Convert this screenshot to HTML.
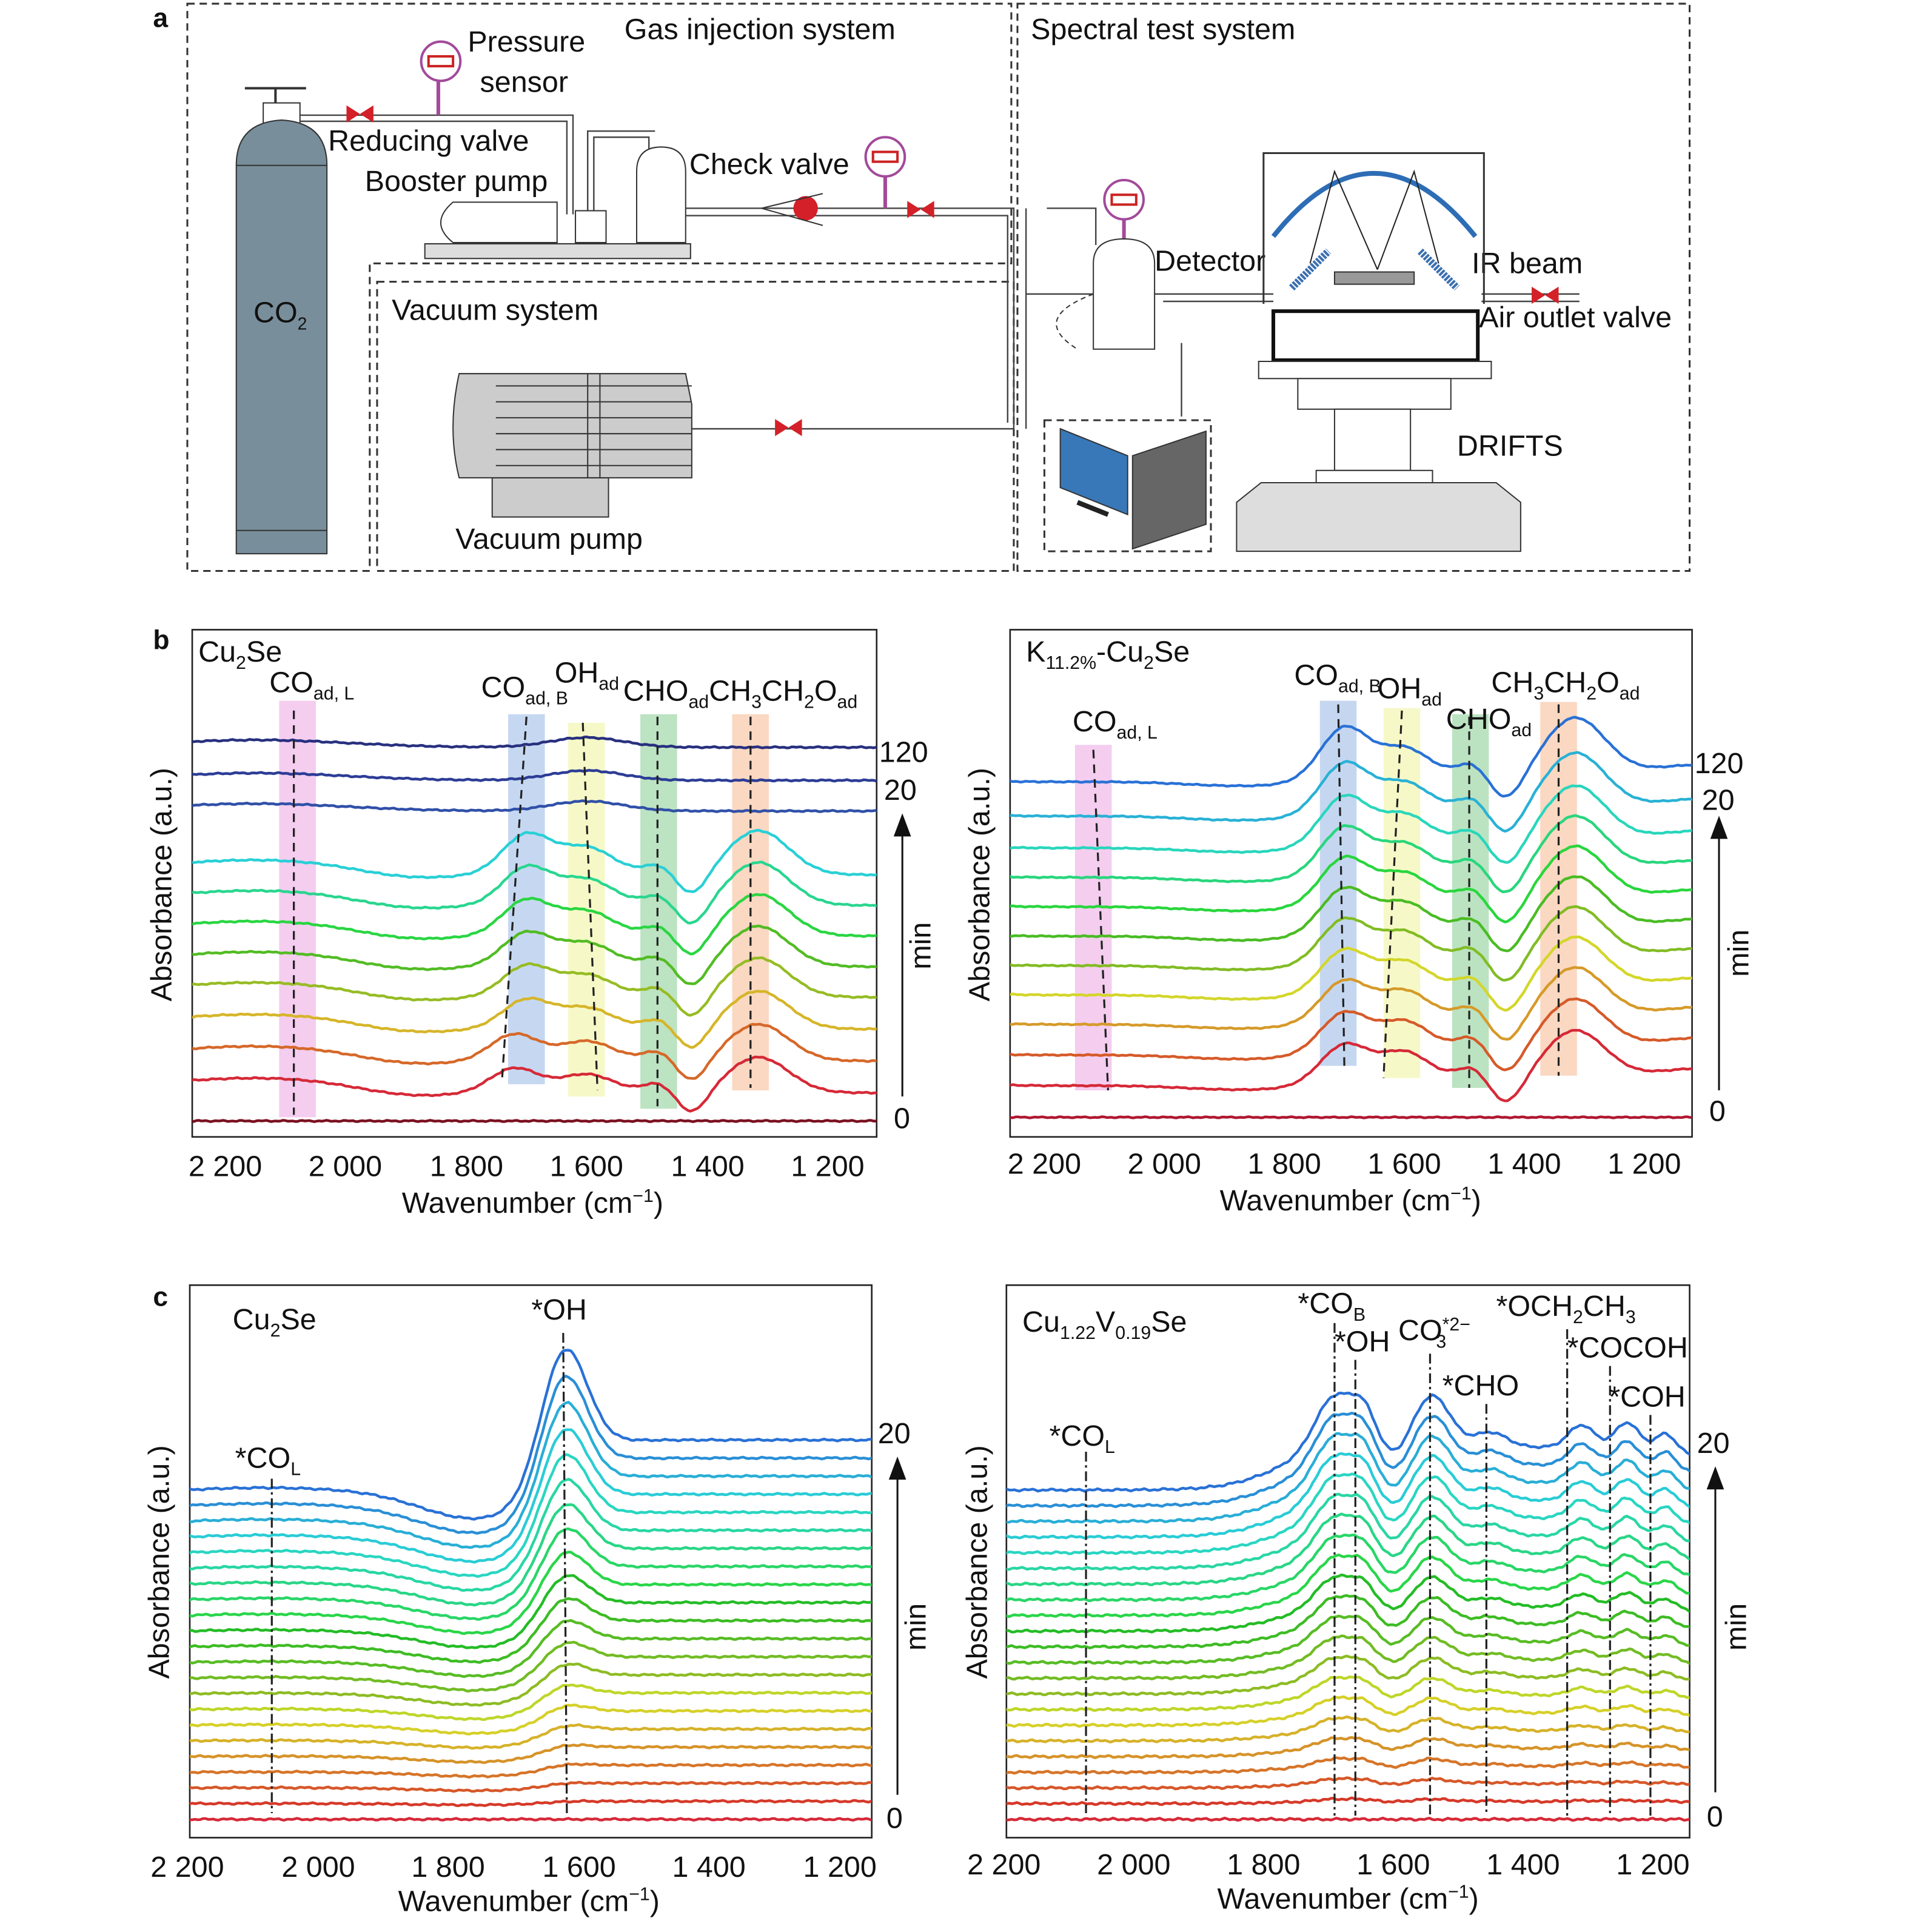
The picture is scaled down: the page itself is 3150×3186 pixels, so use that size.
<!DOCTYPE html>
<html><head><meta charset="utf-8"><style>
html,body{margin:0;padding:0;background:#fff}
svg{display:block}
text{font-family:"Liberation Sans",sans-serif;fill:#111}
</style></head><body>
<svg id="s" width="3150" height="3186" viewBox="0 0 1560 1577" preserveAspectRatio="none" xmlns="http://www.w3.org/2000/svg">
<defs>
<clipPath id="cbl"><rect x="157" y="514" width="559" height="414"/></clipPath>
<clipPath id="cbr"><rect x="825" y="514" width="557" height="414"/></clipPath>
<clipPath id="ccl"><rect x="155" y="1049" width="557" height="451"/></clipPath>
<clipPath id="ccr"><rect x="822" y="1049" width="558" height="451"/></clipPath>
</defs>
<g fill="none" stroke="#333" stroke-width="1.5" stroke-dasharray="6,4">
<path d="M153,3 H826 V215 H302 V466 H153 Z"/>
<rect x="308" y="230" width="520" height="236"/>
<rect x="831" y="3" width="549" height="463"/>
<rect x="853" y="343" width="136" height="107"/>
</g>
<text x="125" y="22" font-size="22" font-weight="bold">a</text>
<text x="510" y="32" font-size="24">Gas injection system</text>
<text x="842" y="32" font-size="24">Spectral test system</text>
<text x="320" y="261" font-size="24">Vacuum system</text>
<text x="382" y="42" font-size="24">Pressure</text>
<text x="392" y="75" font-size="24">sensor</text>
<text x="268" y="123" font-size="24">Reducing valve</text>
<text x="298" y="156" font-size="24">Booster pump</text>
<text x="563" y="142" font-size="24">Check valve</text>
<text x="372" y="448" font-size="24">Vacuum pump</text>
<text x="943" y="221" font-size="24">Detector</text>
<text x="1202" y="223" font-size="24">IR beam</text>
<text x="1208" y="267" font-size="24">Air outlet valve</text>
<text x="1055" y="281" font-size="24">Sample cell</text>
<text x="1190" y="372" font-size="24">DRIFTS</text>
<rect x="215" y="84" width="30" height="20" fill="#fff" stroke="#333"/>
<path d="M200,72 H250 M225,72 V84" stroke="#333" stroke-width="2"/>
<path d="M193,135 Q193,100 230,98 Q267,100 267,135 V452 H193 Z" fill="#788e9b" stroke="#333"/>
<path d="M193,135 H267 M193,433 H267" stroke="#333"/>
<text x="207" y="263" font-size="24">CO<tspan font-size="14" dy="6">2</tspan></text>
<g stroke="#444" fill="none" stroke-width="1.2">
<path d="M245,94 H468 V175 M245,99 H463 V175"/>
<path d="M560,170 H828 V350 M560,176 H823 V345 M563,350 H828"/>
<path d="M838,170 V350 M838,240 H1040 M950,246 H1040 M1210,240 H1290 M1210,246 H1290"/>
<path d="M855,170 H895 V200 M965,280 V340"/>
<path d="M485,172 V112 H530 V125 M480,172 V107 H535"/>
</g>
<path d="M358,63 V94" stroke="#a24a9a" stroke-width="3"/>
<circle cx="360" cy="50" r="16" fill="#fff" stroke="#a24a9a" stroke-width="2"/><rect x="350" y="46" width="20" height="8" fill="none" stroke="#c22" stroke-width="2"/>
<path d="M723,142 V170" stroke="#a24a9a" stroke-width="3"/>
<circle cx="723" cy="128" r="16" fill="#fff" stroke="#a24a9a" stroke-width="2"/><rect x="713" y="124" width="20" height="8" fill="none" stroke="#c22" stroke-width="2"/>
<path d="M918,178 V200" stroke="#a24a9a" stroke-width="3"/>
<circle cx="918" cy="163" r="16" fill="#fff" stroke="#a24a9a" stroke-width="2"/><rect x="908" y="159" width="20" height="8" fill="none" stroke="#c22" stroke-width="2"/>
<g fill="#d42028">
<path d="M283,86 L305,100 V86 L283,100 Z"/><path d="M741,164 L763,178 V164 L741,178 Z"/><path d="M633,342 L655,356 V342 L633,356 Z"/><path d="M1251,234 L1273,248 V234 L1251,248 Z"/>
<circle cx="658" cy="170" r="10"/>
</g>
<path d="M622,170 L672,158 M622,170 L672,184" stroke="#333"/>
<rect x="347" y="199" width="217" height="12" fill="#ddd" stroke="#333"/>
<path d="M370,198 Q350,182 370,165 H455 V198 Z" fill="#fff" stroke="#333"/>
<path d="M520,198 V140 Q520,120 540,120 Q560,120 560,140 V198 Z" fill="#fff" stroke="#333"/>
<rect x="470" y="172" width="25" height="26" fill="#fff" stroke="#333"/>
<rect x="402" y="390" width="95" height="32" fill="#ccc" stroke="#333"/>
<path d="M375,305 H560 L565,330 V390 H375 Q365,350 375,305 Z" fill="#ccc" stroke="#333"/>
<g stroke="#333"><path d="M405,315 H565 M405,328 H565 M405,341 H565 M405,354 H565 M405,367 H565 M405,380 H565 M480,305 V390 M490,305 V390"/></g>
<path d="M893,285 V215 Q893,195 918,195 Q943,195 943,215 V285 Z" fill="#fff" stroke="#333"/>
<path d="M893,240 Q840,260 880,285" fill="none" stroke="#333" stroke-dasharray="4,3"/>
<path d="M866,350 L921,372 V420 L866,398 Z" fill="#3878b8" stroke="#333"/>
<path d="M925,372 L985,352 V428 L925,448 Z" fill="#666" stroke="#333"/>
<path d="M880,410 L905,420" stroke="#222" stroke-width="4"/>
<path d="M1032,248 V125 H1212 V248" fill="none" stroke="#333" stroke-width="1.5"/>
<path d="M1040,193 Q1122,90 1205,193" fill="none" stroke="#2d6db5" stroke-width="4"/>
<path d="M1125,220 L1090,140 L1070,215 M1125,220 L1155,140 L1175,215" fill="none" stroke="#222"/>
<path d="M1055,235 L1085,205 M1160,205 L1190,235" stroke="#3b6fb0" stroke-width="6" stroke-dasharray="2,1"/>
<rect x="1090" y="222" width="65" height="10" fill="#999" stroke="#333"/>
<rect x="1040" y="254" width="167" height="40" fill="#fff" stroke="#111" stroke-width="3"/>
<rect x="1028" y="295" width="190" height="14" fill="#fff" stroke="#333"/>
<rect x="1060" y="309" width="125" height="25" fill="#fff" stroke="#333"/>
<rect x="1090" y="334" width="62" height="50" fill="#fff" stroke="#333"/>
<rect x="1075" y="384" width="95" height="10" fill="#fff" stroke="#333"/>
<path d="M1010,450 V410 L1030,394 H1222 L1242,410 V450 Z" fill="#ddd" stroke="#333"/>
<g fill="none" stroke="#222" stroke-width="1.3">
<rect x="157" y="514" width="559" height="414"/><rect x="825" y="514" width="557" height="414"/>
<rect x="155" y="1049" width="557" height="451"/><rect x="822" y="1049" width="558" height="451"/>
</g>
<g id="bands" opacity="0.35"></g>
<g id="curves" fill="none" stroke-width="2.2"></g>
<g id="marks" fill="none" stroke="#222" stroke-width="1.6"></g>
<g font-size="24">
<text x="125" y="530" font-size="22" font-weight="bold">b</text>
<text x="125" y="1066" font-size="22" font-weight="bold">c</text>
<text x="162" y="540">Cu<tspan font-size="15" dy="6">2</tspan><tspan dy="-6">Se</tspan></text>
<text x="838" y="540">K<tspan font-size="15" dy="6">11.2%</tspan><tspan dy="-6">-Cu</tspan><tspan font-size="15" dy="6">2</tspan><tspan dy="-6">Se</tspan></text>
<text x="190" y="1085">Cu<tspan font-size="15" dy="6">2</tspan><tspan dy="-6">Se</tspan></text>
<text x="835" y="1087">Cu<tspan font-size="15" dy="6">1.22</tspan><tspan dy="-6">V</tspan><tspan font-size="15" dy="6">0.19</tspan><tspan dy="-6">Se</tspan></text>
<text x="220" y="565">CO<tspan font-size="15" dy="6">ad, L</tspan></text>
<text x="393" y="569">CO<tspan font-size="15" dy="6">ad, B</tspan></text>
<text x="453" y="557">OH<tspan font-size="15" dy="6">ad</tspan></text>
<text x="509" y="572">CHO<tspan font-size="15" dy="6">ad</tspan><tspan dy="-6">CH</tspan><tspan font-size="15" dy="6">3</tspan><tspan dy="-6">CH</tspan><tspan font-size="15" dy="6">2</tspan><tspan dy="-6">O</tspan><tspan font-size="15" dy="6">ad</tspan></text>
<text x="876" y="597">CO<tspan font-size="15" dy="6">ad, L</tspan></text>
<text x="1057" y="559">CO<tspan font-size="15" dy="6">ad, B</tspan></text>
<text x="1125" y="570">OH<tspan font-size="15" dy="6">ad</tspan></text>
<text x="1181" y="595">CHO<tspan font-size="15" dy="6">ad</tspan></text>
<text x="1218" y="565">CH<tspan font-size="15" dy="6">3</tspan><tspan dy="-6">CH</tspan><tspan font-size="15" dy="6">2</tspan><tspan dy="-6">O</tspan><tspan font-size="15" dy="6">ad</tspan></text>
<text x="192" y="1198">*CO<tspan font-size="15" dy="6">L</tspan></text>
<text x="434" y="1077">*OH</text>
<text x="857" y="1180">*CO<tspan font-size="15" dy="6">L</tspan></text>
<text x="1060" y="1072">*CO<tspan font-size="15" dy="6">B</tspan></text>
<text x="1090" y="1103">*OH</text>
<text x="1142" y="1094">CO<tspan font-size="15" dy="-8">*2−</tspan><tspan font-size="15" dy="14" dx="-28">3</tspan></text>
<text x="1178" y="1139">*CHO</text>
<text x="1222" y="1074">*OCH<tspan font-size="15" dy="6">2</tspan><tspan dy="-6">CH</tspan><tspan font-size="15" dy="6">3</tspan></text>
<text x="1280" y="1108">*COCOH</text>
<text x="1314" y="1148">*COH</text>
<text x="718" y="622">120</text><text x="722" y="653">20</text><text x="730" y="921">0</text>
<text x="1384" y="631">120</text><text x="1390" y="661">20</text><text x="1396" y="915">0</text>
<text x="717" y="1178">20</text><text x="724" y="1492">0</text>
<text x="1386" y="1186">20</text><text x="1394" y="1491">0</text>
<g text-anchor="middle">
<text x="184" y="960">2 200</text><text x="282" y="960">2 000</text><text x="381" y="960">1 800</text><text x="479" y="960">1 600</text><text x="578" y="960">1 400</text><text x="676" y="960">1 200</text>
<text x="853" y="958">2 200</text><text x="951" y="958">2 000</text><text x="1049" y="958">1 800</text><text x="1147" y="958">1 600</text><text x="1245" y="958">1 400</text><text x="1343" y="958">1 200</text>
<text x="153" y="1532">2 200</text><text x="260" y="1532">2 000</text><text x="366" y="1532">1 800</text><text x="473" y="1532">1 600</text><text x="579" y="1532">1 400</text><text x="686" y="1532">1 200</text>
<text x="820" y="1530">2 200</text><text x="926" y="1530">2 000</text><text x="1032" y="1530">1 800</text><text x="1138" y="1530">1 600</text><text x="1244" y="1530">1 400</text><text x="1350" y="1530">1 200</text>
<text x="435" y="990">Wavenumber (cm<tspan font-size="15" dy="-9">−1</tspan><tspan dy="9">)</tspan></text>
<text x="1103" y="988">Wavenumber (cm<tspan font-size="15" dy="-9">−1</tspan><tspan dy="9">)</tspan></text>
<text x="432" y="1560">Wavenumber (cm<tspan font-size="15" dy="-9">−1</tspan><tspan dy="9">)</tspan></text>
<text x="1101" y="1558">Wavenumber (cm<tspan font-size="15" dy="-9">−1</tspan><tspan dy="9">)</tspan></text>
<text transform="translate(140,722) rotate(-90)">Absorbance (a.u.)</text>
<text transform="translate(808,722) rotate(-90)">Absorbance (a.u.)</text>
<text transform="translate(138,1275) rotate(-90)">Absorbance (a.u.)</text>
<text transform="translate(806,1275) rotate(-90)">Absorbance (a.u.)</text>
<text transform="translate(760,772) rotate(-90)">min</text>
<text transform="translate(1428,778) rotate(-90)">min</text>
<text transform="translate(756,1328) rotate(-90)">min</text>
<text transform="translate(1426,1328) rotate(-90)">min</text>
</g>
</g>
<g stroke="#111" stroke-width="1.5" fill="#111">
<path d="M737,895 V680"/><path d="M731,682 L737,666 L743,682 Z"/>
<path d="M1404,890 V682"/><path d="M1398,684 L1404,668 L1410,684 Z"/>
<path d="M733,1465 V1205"/><path d="M727,1207 L733,1191 L739,1207 Z"/>
<path d="M1401,1463 V1213"/><path d="M1395,1215 L1401,1199 L1407,1215 Z"/>
</g>
</svg>
<script>
var NS="http://www.w3.org/2000/svg";
function el(p,t,a){var e=document.createElementNS(NS,t);for(var k in a)e.setAttribute(k,a[k]);p.appendChild(e);return e;}
function g(w,c,s){return Math.exp(-Math.pow((w-c)/s,2)/2);}
function col(t){var h=-5+t*220;if(h<0)h+=360;return "hsl("+h+",68%,"+(t>0.35&&t<0.6?44:50)+"%)";}
var C=document.getElementById("curves"),B=document.getElementById("bands"),M=document.getElementById("marks");
function draw(clip,xm,f,n,colf,noise){
 var gg=el(C,"g",{"clip-path":"url(#"+clip+")"});
 for(var i=0;i<n;i++){var d="";for(var w=2260;w>=1090;w-=4){var y=f(w,i)+(noise?noise*Math.sin(w*1.7+i*3)*Math.sin(w*0.31+i):0);d+=(d?"L":"M")+xm(w).toFixed(1)+","+y.toFixed(1);}
 el(gg,"path",{d:d,stroke:colf(i)});}
}
var xbl=function(w){return 184+(2200-w)*0.492;};
var bl=[915,892,866,840,814,789,764,739,714,662,637,610];
draw("cbl",xbl,function(w,i){var y=bl[i];if(i==0)return y;
 if(i>=9)return y-6*g(w,2150,150)-8*g(w,1600,60);
 var a=(i)/8;
 return y-12*g(w,2150,180)-(18+14*a)*g(w,1700-(i<3?-20:0),40)-(14+8*a)*g(w,1600,45)-8*g(w,1480,25)+18*g(w,1425,25)-(28+8*a)*g(w,1315,50)+6*g(w,1900,80);},
 12,function(i){return i==0?"#7a1020":i>=9?["#3050a8","#2c3c96","#28307f"][i-9]:col((i-1)/7*0.85);},0.6);
var xbr=function(w){return 853+(2200-w)*0.49;};
var br=[912,880,855,830,806,782,758,734,710,686,660,632];
draw("cbr",xbr,function(w,i){var y=br[i];if(i==0)return y;var a=i/11;
 return y+6*g(w,2200,200)-(30+12*a)*g(w,1700,40)-(22)*g(w,1600,40)-10*g(w,1485,25)+22*g(w,1430,28)-(38+8*a)*g(w,1315,50)+8*g(w,1850,120)-8*g(w,1100,80);},
 12,function(i){return i==0?"#b01830":col((i-1)/10);},0.5);
var xcl=function(w){return 153+(2200-w)*0.533;};
draw("ccl",xcl,function(w,i){var a=i/21,y=1485-i*12.6;
 var s=1/(1+Math.exp((w-1640)/25));
 return y-(45*a)*s-(85*a*a+8*a)*g(w,1625,35)+(20*a)*g(w,1760,80)-6*a*g(w,2080,150);},
 22,function(i){return col(i/21);},0.8);
var xcr=function(w){return 820+(2200-w)*0.53;};
draw("ccr",xcr,function(w,i){var a=i/21,y=1485-i*12.8;
 var s=1/(1+Math.exp((w-1780)/40));
 return y-(35*a)*s-(45*a)*g(w,1690,30)-(25*a)*g(w,1645,18)-(42*a)*g(w,1540,28)+(8*a)*g(w,1595,18)-(12*a)*g(w,1450,25)-(18*a)*g(w,1310,20)-(20*a)*g(w,1240,18)-(12*a)*g(w,1180,14)+(8*a)*g(w,1120,30);},
 22,function(i){return col(i/21);},1.0);
var bcol=["#e070d0","#5b8ed6","#e8f060","#40b050","#f09050"];
[[243,572,912,0],[430,583,885,1],[479,590,895,2],[538,583,905,3],[613,583,890,4]].forEach(function(b){el(B,"rect",{x:b[0]-15,y:b[1],width:30,height:b[2]-b[1],fill:bcol[b[3]]});});
[[893,608,890,0],[1093,572,870,1],[1145,578,880,2],[1201,583,888,3],[1273,573,878,4]].forEach(function(b){el(B,"rect",{x:b[0]-15,y:b[1],width:30,height:b[2]-b[1],fill:bcol[b[3]]});});
function dl(x1,y1,x2,y2,da){el(M,"path",{d:"M"+x1+","+y1+" L"+x2+","+y2,"stroke-dasharray":da||"7,5"});}
dl(240,580,240,910);dl(430,585,410,882);dl(476,590,488,890);dl(537,585,537,903);dl(613,585,613,888);
dl(893,612,905,890);dl(1093,575,1098,870);dl(1145,580,1130,880);dl(1200,585,1200,888);dl(1273,575,1273,878);
var dd="8,3,2,3";
dl(222,1207,222,1480,dd);dl(460,1088,463,1482,dd);
dl(887,1185,887,1480,dd);dl(1090,1080,1090,1482,dd);dl(1107,1110,1107,1482,dd);dl(1168,1105,1168,1482,dd);dl(1214,1146,1214,1482,dd);dl(1280,1085,1280,1482,dd);dl(1315,1115,1315,1482,dd);dl(1348,1155,1348,1482,dd);
</script>
</body></html>
